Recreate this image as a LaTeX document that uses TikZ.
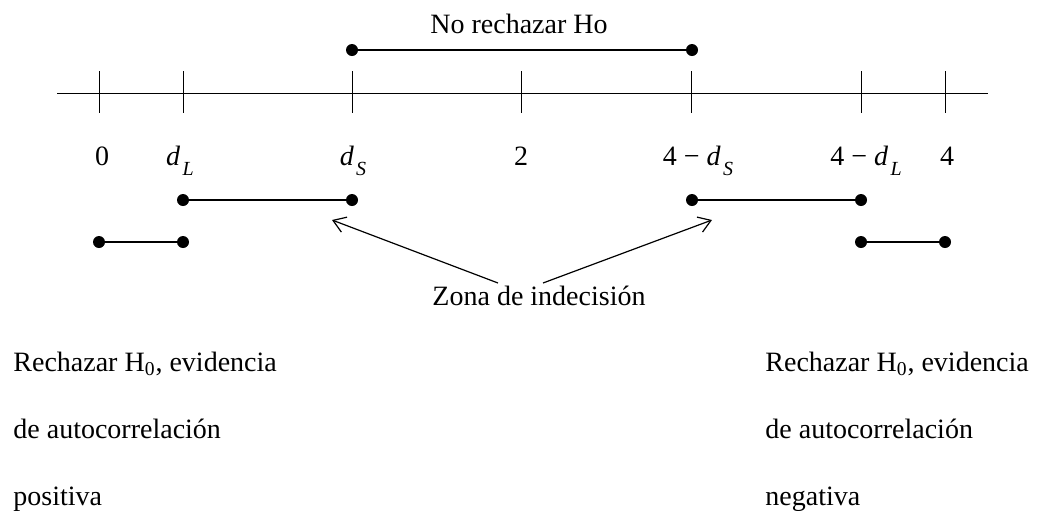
\documentclass[tikz,border=0pt]{standalone}
\usepackage{fontspec}
\setmainfont{Liberation Serif}
\usetikzlibrary{arrows.meta, positioning}

\newcommand{\dsub}[1]{\textit{d}\kern1.2pt\raisebox{-0.8ex}{\fontsize{10}{12}\selectfont\textit{#1}}}

\begin{document}
\begin{tikzpicture}[x=0.5pt, y=-0.5pt, font=\fontsize{14}{16}\selectfont,
	dot/.style={circle, fill, inner sep=0pt, minimum size=6pt},
	seg/.style={line width=0.7pt},
	lbl/.style={anchor=base, inner sep=0pt},
	blk/.style={anchor=base west, align=left, inner sep=0pt, font=\fontsize{14}{33.5}\selectfont},
	pointer/.style={-{Straight Barb[length=6pt, width=8pt]}, line width=0.6pt}]

		\useasboundingbox (0,0) rectangle (1039,510);

		% number line
		\coordinate (axL) at (57,93);
		\coordinate (axR) at (988,93);
		\draw[line width=0.5pt] (axL) -- (axR);
		\foreach \x/\lx/\name/\txt in {99/102/t0/0, 183/180/tdL/\dsub{L}, 352/353/tdS/\dsub{S},
			521/521/t2/2, 691/698/tfS/{4 − \dsub{S}}, 861/866/tfL/{4 − \dsub{L}}, 945/947/t4/4}
		{
			\draw[line width=0.5pt] (\x,71) -- (\x,113);
			\node[lbl] (\name) at (\lx,165) {\txt};
		}

		% no rechazar
		\node[dot] (nrA) at (352,50) {};
		\node[dot] (nrB) at (692,50) {};
		\node[lbl] (nr) at (519,33) {No rechazar Ho};

		% zonas de indecision
		\node[dot] (ziA) at (183,200) {};
		\node[dot] (ziB) at (352,200) {};
		\node[dot] (ziC) at (692,200) {};
		\node[dot] (ziD) at (861,200) {};

		% zonas de rechazo
		\node[dot] (rzA) at (99,242) {};
		\node[dot] (rzB) at (183,242) {};
		\node[dot] (rzC) at (861,242) {};
		\node[dot] (rzD) at (945,242) {};

		\path[seg]
		(nrA) edge (nrB)
		(ziA) edge (ziB)
		(ziC) edge (ziD)
		(rzA) edge (rzB)
		(rzC) edge (rzD);

		\node[lbl] (zona) at (539,305) {Zona de indecisión};
		\coordinate (zL) at (498,283);
		\coordinate (zR) at (543,283);
		\coordinate (tipL) at (332,220);
		\coordinate (tipR) at (712,220);
		\draw[pointer] (zL) -- (tipL);
		\draw[pointer] (zR) -- (tipR);

		% bloques de texto (base = ultima linea)
		\node[blk] (pos) at (13,505) {Rechazar H\textsubscript{0}, evidencia\\de autocorrelación\\positiva};
		\node[blk] (neg) at (765,505) {Rechazar H\textsubscript{0}, evidencia\\de autocorrelación\\negativa};

\end{tikzpicture}
\end{document}
